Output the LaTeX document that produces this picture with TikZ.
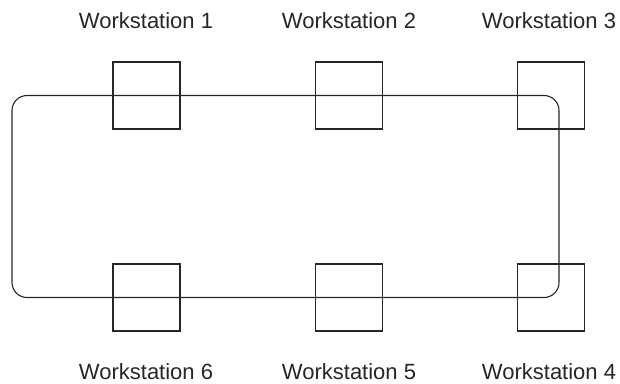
\documentclass[tikz,border=0pt]{standalone}
\usepackage{fontspec}
\setmainfont{Liberation Sans}
\begin{document}
\begin{tikzpicture}[x=1pt,y=-1pt,
  line/.style={draw=black!85,line width=1.1pt},
  wsbox/.style={line,minimum width=67pt,minimum height=67pt,inner sep=0pt,outer sep=0pt},
  wslabel/.style={anchor=base,inner sep=0pt,text=black!85,font=\fontsize{22}{26}\selectfont}]
\useasboundingbox (0,0) rectangle (620,383);
% ring
\node[line,rounded corners=15pt,minimum width=547pt,minimum height=202pt,inner sep=0pt,outer sep=0pt] (ring) at (285.5,196.5) {};
% workstations
\node[wsbox] (w1) at (146.5,95.5) {};
\node[wsbox] (w2) at (349,95.5) {};
\node[wsbox] (w3) at (551,95.5) {};
\node[wsbox] (w6) at (146.5,297.5) {};
\node[wsbox] (w5) at (349,297.5) {};
\node[wsbox] (w4) at (551,297.5) {};
% labels
\node[wslabel] (l1) at (146,28) {Workstation 1};
\node[wslabel] (l2) at (349,28) {Workstation 2};
\node[wslabel] (l3) at (549,28) {Workstation 3};
\node[wslabel] (l6) at (146,379) {Workstation 6};
\node[wslabel] (l5) at (349,379) {Workstation 5};
\node[wslabel] (l4) at (549,379) {Workstation 4};
\end{tikzpicture}
\end{document}
